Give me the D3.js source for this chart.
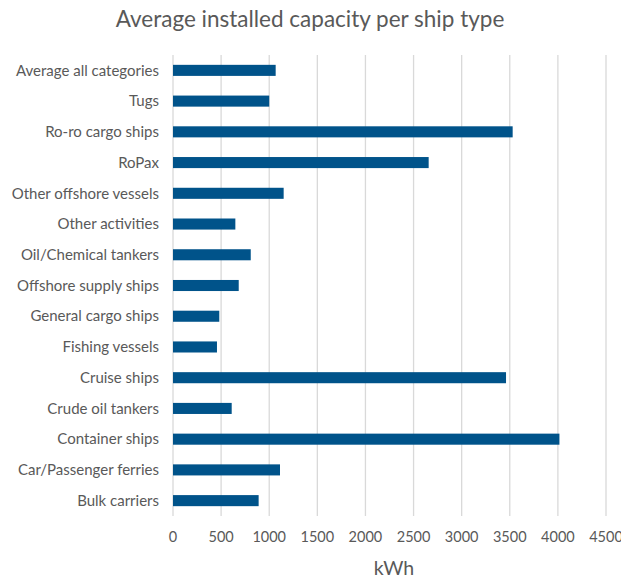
<!DOCTYPE html>
<html><head><meta charset="utf-8">
<script src="https://cdn.jsdelivr.net/npm/d3@7"></script>
<style>body{margin:0;background:#fff}</style>
</head><body>
<svg id="c" width="621" height="581"></svg>
<script>
const categories = ["Average all categories","Tugs","Ro-ro cargo ships","RoPax","Other offshore vessels","Other activities","Oil/Chemical tankers","Offshore supply ships","General cargo ships","Fishing vessels","Cruise ships","Crude oil tankers","Container ships","Car/Passenger ferries","Bulk carriers"];
const values = [1067,1000,3530,2657,1150,648,808,683,481,457,3461,610,4016,1112,890];
const ticks = [0,500,1000,1500,2000,2500,3000,3500,4000,4500];
const title = "Average installed capacity per ship type";
const axisTitle = "kWh";

const svg = d3.select("#c");
const font = "Lato, 'Open Sans', sans-serif";
const textColor = "#595959";
const x = d3.scaleLinear().domain([0,4500]).range([173,606]);
const y = d3.scaleBand().domain(categories).range([55,516]).paddingInner(0.64).paddingOuter(0.32);

svg.append("g").selectAll("line").data(ticks).join("line")
  .attr("x1",d=>x(d)).attr("x2",d=>x(d)).attr("y1",55).attr("y2",516)
  .attr("stroke","#d9d9d9").attr("stroke-width",1.3);

svg.append("g").selectAll("rect").data(values).join("rect")
  .attr("x",x(0)).attr("y",(d,i)=>y(categories[i]))
  .attr("width",d=>x(d)-x(0)).attr("height",y.bandwidth())
  .attr("fill","#00538a");

svg.append("g").selectAll("text").data(categories).join("text")
  .attr("x",159).attr("y",d=>y(d)+y.bandwidth()/2).attr("dy","0.35em")
  .attr("text-anchor","end").attr("font-family",font).attr("font-size",15)
  .attr("fill",textColor).text(d=>d);

svg.append("g").selectAll("text").data(ticks).join("text")
  .attr("x",d=>x(d)).attr("y",537).attr("dy","0.35em")
  .attr("text-anchor","middle").attr("font-family",font).attr("font-size",14.5)
  .attr("fill",textColor).text(d=>d);

svg.append("text").attr("x",310).attr("y",27).attr("text-anchor","middle")
  .attr("font-family",font).attr("font-size",22.5).attr("fill",textColor).text(title);

svg.append("text").attr("x",394).attr("y",568).attr("dy","0.35em").attr("text-anchor","middle")
  .attr("font-family",font).attr("font-size",19.5).attr("fill",textColor).text(axisTitle);
</script>
</body></html>
